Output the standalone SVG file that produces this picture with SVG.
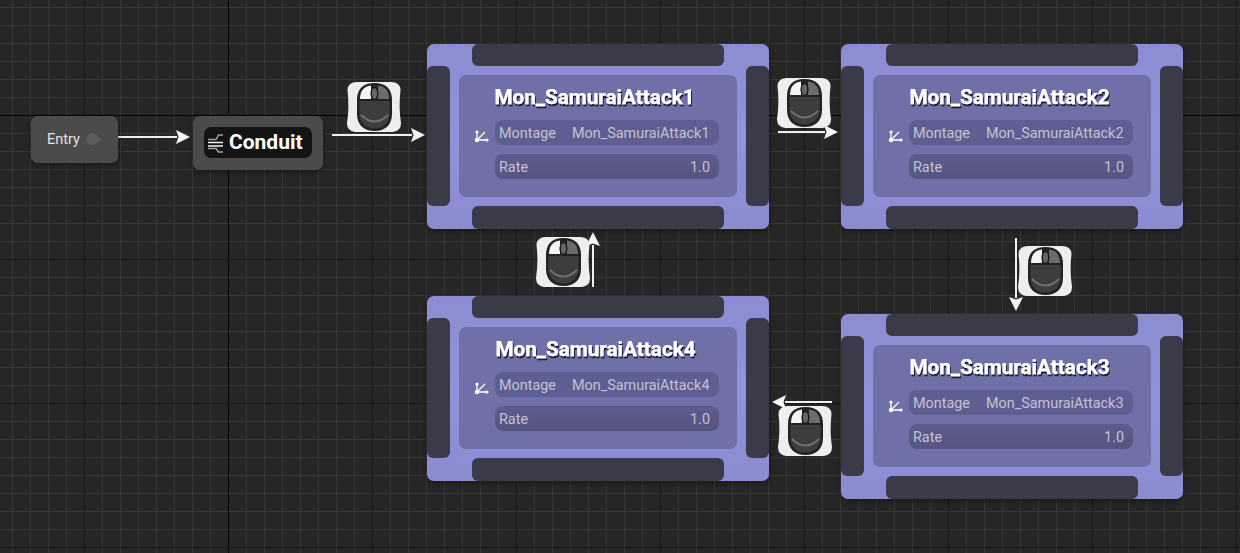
<svg xmlns="http://www.w3.org/2000/svg" xmlns:xlink="http://www.w3.org/1999/xlink" width="1240" height="553" viewBox="0 0 1240 553">
<style>
text{font-family:Roboto,"Liberation Sans",sans-serif}
.bar{fill:#3b3a49}
.panel{fill:#7070a8}
.row{fill:#5f5e92}
.title{font-size:20.700px;font-weight:700;fill:#fff;stroke:#fff;stroke-width:.25px;text-anchor:middle;filter:url(#ts)}
.lab{font-size:14.400px;fill:#c2c2d0}
.val{font-size:14.400px;fill:#c2c2d0;text-anchor:end}
.conn{fill:none;stroke:#efefef;stroke-width:2;marker-end:url(#ah)}
</style>
<defs>
<pattern id="g" x="12" y="7" width="18" height="18" patternUnits="userSpaceOnUse"><rect width="18" height="18" fill="#262626"/><path d="M.5 0V18M0 .5H18" stroke="#363636" fill="none"/></pattern>
<pattern id="m" x="84" y="115" width="144" height="144" patternUnits="userSpaceOnUse"><path d="M.5 0V144M0 .5H144" stroke="#171717" fill="none"/></pattern>
<marker id="ah" markerUnits="userSpaceOnUse" markerWidth="15" markerHeight="16" refX="1" refY="8" orient="auto"><path d="M0 1L14 8L0 15L2.500 8Z" fill="#f6f6f6"/></marker>
<filter id="ds" x="-10%" y="-10%" width="120%" height="125%"><feDropShadow dx="0" dy="2" stdDeviation="3" flood-color="#000" flood-opacity=".4"/></filter>
<filter id="ts" x="-5%" y="-20%" width="110%" height="150%"><feDropShadow dx="1" dy="2" stdDeviation=".3" flood-color="#17172a" flood-opacity=".95"/></filter>
<filter id="soft" x="-5%" y="-5%" width="110%" height="110%"><feGaussianBlur stdDeviation=".35"/></filter>
<linearGradient id="np" x1="0" y1="0" x2="0" y2="1"><stop offset="0" stop-color="#8c8cd2"/><stop offset=".5" stop-color="#9292dc"/><stop offset="1" stop-color="#8b8bd0"/></linearGradient>
<linearGradient id="rr" x1="0" y1="0" x2="0" y2="1"><stop offset="0" stop-color="#5d5c8e"/><stop offset="1" stop-color="#555482"/></linearGradient>
<g id="base">
<rect width="342" height="185" rx="7" fill="url(#np)" filter="url(#ds)"/>
<rect class="bar" x="45" width="252" height="22" rx="6"/>
<rect class="bar" x="45" y="162" width="252" height="23" rx="6"/>
<rect class="bar" x="0" y="22" width="23" height="140" rx="6"/>
<rect class="bar" x="319" y="22" width="23" height="140" rx="6"/>
<rect class="panel" x="32" y="31" width="278" height="122" rx="7"/>
<rect class="row" x="68" y="76" width="224" height="25" rx="8"/>
<rect x="68" y="110" width="224" height="25" rx="8" fill="url(#rr)"/>
<path d="M50 88V96H60M50 96L58 88" stroke="#fff" stroke-width="1.300" fill="none"/>
<circle cx="50" cy="88" r="1.600" fill="#fff"/><circle cx="50" cy="96" r="2.200" fill="#fff"/><circle cx="60" cy="96" r="1.600" fill="#fff"/>
</g>
<g id="mouse" filter="url(#soft)">
<path d="M10 1H44Q53 1 53.500 9Q51.500 26 54 42Q54 50 46 51H8Q0 50 0 42Q2.500 26 .5 9Q1 1 10 1Z" fill="#eeeeee"/>
<path d="M27.500 2C15 2 10 9 10 19V33C10 44 17 50 27.500 50C38 50 45 44 45 33V19C45 9 40 2 27.500 2Z" fill="#222"/>
<path d="M24 4.500C17 5 13 10 13 18H24V4.500Z" fill="#f4f4f4"/>
<path d="M31 4.500C38 5 42 10 42 18H31V4.500Z" fill="#6c6c6c"/>
<ellipse cx="27.500" cy="12.500" rx="3.300" ry="6" fill="#666" stroke="#1c1c1c" stroke-width="1.500"/>
<path d="M12.500 20H42.500V33C42.500 42 36 47.500 27.500 47.500C19 47.500 12.500 42 12.500 33Z" fill="#3e3e3e"/>
<path d="M14 34Q27.500 47 41 34" fill="none" stroke="#707070" stroke-width="1.800"/>
</g>
</defs>

<g id="grid">
<rect width="1240" height="553" fill="url(#g)"/>
<rect width="1240" height="553" fill="url(#m)"/>
<path d="M228.500 0V553M0 115.500H1240" stroke="#050505" fill="none"/>
</g>

<g id="connectors">
<path class="conn" d="M118 137H177"/>
<path class="conn" d="M332 135H412"/>
<path class="conn" d="M778 132H825"/>
<path class="conn" d="M1016 238V298"/>
<path class="conn" d="M832 402H785"/>
<path class="conn" d="M593 287V245"/>
</g>

<g id="entry">
<rect x="31" y="116" width="87" height="47" rx="7" fill="#4b4b4b" filter="url(#ds)"/>
<text x="47" y="144" font-size="14.500" fill="#e2e2e2">Entry</text>
<circle cx="92.500" cy="139" r="6" fill="#5c5c5c"/><path d="M98 136.500L101.500 139L98 141.500Z" fill="#5c5c5c"/>
</g>

<g id="conduit">
<rect x="193" y="116" width="130" height="54" rx="7" fill="#4b4b4b" filter="url(#ds)"/>
<rect x="204" y="127" width="108" height="31" rx="7" fill="#141414"/>
<path d="M208 139.500H216L218.500 135H223M208 148.500H216L218.500 152H223" stroke="#a0a0a0" stroke-width="1.500" fill="none"/>
<path d="M208 142.500H223M208 146H223" stroke="#f2f2f2" stroke-width="1.500" fill="none"/>
<text x="229" y="149" font-size="21" font-weight="700" fill="#fff">Conduit</text>
</g>

<g id="attack1">
<use href="#base" x="427" y="44"/>
<text class="title" x="594.500" y="104">Mon_SamuraiAttack1</text>
<text class="lab" x="499" y="138">Montage</text><text class="val" x="709.500" y="138">Mon_SamuraiAttack1</text>
<text class="lab" x="499" y="172">Rate</text><text class="val" x="710" y="172">1.0</text>
</g>
<g id="attack2">
<use href="#base" x="841" y="44"/>
<text class="title" x="1009.500" y="104">Mon_SamuraiAttack2</text>
<text class="lab" x="913" y="138">Montage</text><text class="val" x="1123.500" y="138">Mon_SamuraiAttack2</text>
<text class="lab" x="913" y="172">Rate</text><text class="val" x="1124" y="172">1.0</text>
</g>
<g id="attack3">
<use href="#base" x="841" y="314"/>
<text class="title" x="1009.500" y="374">Mon_SamuraiAttack3</text>
<text class="lab" x="913" y="408">Montage</text><text class="val" x="1123.500" y="408">Mon_SamuraiAttack3</text>
<text class="lab" x="913" y="442">Rate</text><text class="val" x="1124" y="442">1.0</text>
</g>
<g id="attack4">
<use href="#base" x="427" y="296"/>
<text class="title" x="595.500" y="356">Mon_SamuraiAttack4</text>
<text class="lab" x="499" y="390">Montage</text><text class="val" x="709.500" y="390">Mon_SamuraiAttack4</text>
<text class="lab" x="499" y="424">Rate</text><text class="val" x="710" y="424">1.0</text>
</g>

<g id="transition-icons">
<use href="#mouse" x="347" y="81"/>
<use href="#mouse" x="777" y="77"/>
<use href="#mouse" x="1018" y="245"/>
<use href="#mouse" x="778" y="405"/>
<use href="#mouse" x="536" y="236"/>
</g>
</svg>
